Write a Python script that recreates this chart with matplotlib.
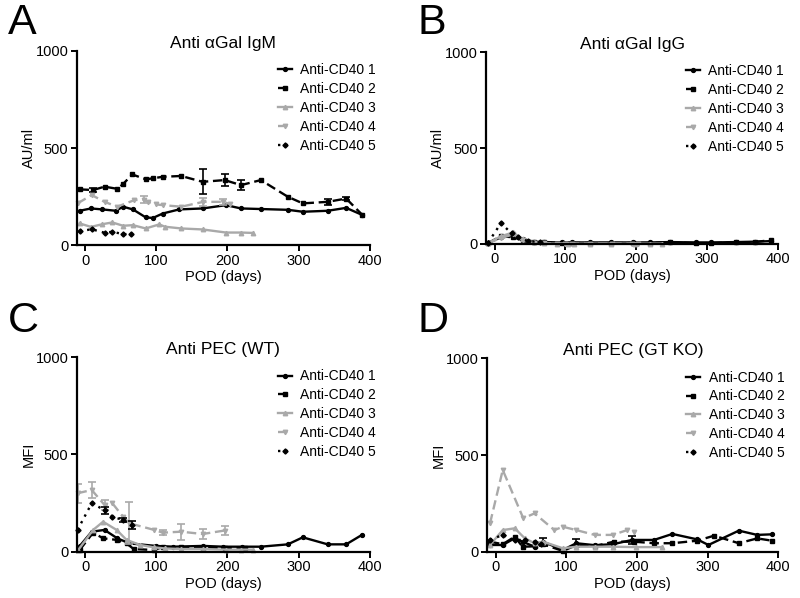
import numpy as np
import matplotlib
matplotlib.use("Agg")
import matplotlib.pyplot as plt

plt.rcParams['font.family'] = ['Liberation Sans', 'DejaVu Sans']

labels = ["Anti-CD40 1", "Anti-CD40 2", "Anti-CD40 3", "Anti-CD40 4", "Anti-CD40 5"]
titles = ["Anti \u03b1Gal IgM", "Anti \u03b1Gal IgG", "Anti PEC (WT)", "Anti PEC (GT KO)"]
ylabels = ["AU/ml", "AU/ml", "MFI", "MFI"]
letters = ["A", "B", "C", "D"]

# panel A - anti aGal IgM
igm_days = [
    [-8, 8, 24, 43, 53, 67, 85, 95, 109, 132, 165, 198, 219, 247, 285, 306, 341, 367, 390],
    [-8, 11, 27, 45, 53, 66, 85, 95, 109, 135, 165, 196, 219, 247, 285, 306, 341, 367, 390],
    [-8, 8, 24, 38, 53, 67, 85, 104, 112, 135, 165, 198, 219, 236],
    [-11, 9, 27, 45, 69, 83, 88, 99, 109, 135, 166, 194, 203],
    [-8, 9, 27, 38, 53, 64],
]
igm_vals = [
    [177, 189, 184, 177, 198, 184, 143, 140, 163, 184, 189, 206, 189, 186, 182, 172, 177, 192, 155],
    [287, 284, 301, 290, 314, 364, 339, 344, 352, 356, 326, 335, 309, 335, 249, 215, 223, 240, 155],
    [112, 94, 108, 117, 100, 103, 86, 107, 95, 86, 81, 65, 65, 63],
    [215, 258, 223, 198, 232, 235, 223, 210, 206, 198, 223, 223, 212],
    [72, 82, 64, 69, 57, 57],
]
igm_errs = [
    None,
    [0, 12, 0, 0, 0, 0, 0, 0, 0, 0, 65, 33, 24, 0, 0, 0, 17, 10, 0],
    None,
    [0, 0, 0, 0, 0, 20, 0, 0, 0, 0, 20, 15, 0],
    None,
]

# panel B - anti aGal IgG
igg_days = [
    [-9, 9, 26, 40, 56, 70, 95, 109, 135, 165, 196, 219, 247, 285, 306, 341, 367, 390],
    [-9, 9, 26, 40, 56, 70, 95, 109, 135, 165, 196, 219, 247, 285, 306, 341, 367, 390],
    [-9, 9, 26, 40, 56, 70, 88, 104, 112, 135, 165, 198, 219, 236],
    [-9, 9, 26, 40, 56, 70, 88, 99, 109, 135, 166, 194, 203],
    [-9, 9, 24, 33, 47, 64],
]
igg_vals = [
    [5, 35, 40, 25, 12, 10, 8, 8, 8, 8, 8, 8, 10, 8, 8, 10, 12, 15],
    [5, 40, 35, 20, 10, 8, 5, 5, 5, 5, 5, 5, 8, 5, 5, 8, 10, 20],
    [5, 40, 60, 25, 8, 3, 2, 2, 2, 2, 2, 2, 2, 2],
    [5, 30, 50, 20, 5, 3, 2, 2, 2, 2, 2, 2, 2],
    [7, 108, 56, 35, 15, 10],
]
igg_errs = [None, None, None, None, None]

# panel C - anti PEC (WT)
wt_days = [
    [-8, 9, 27, 45, 62, 99, 123, 166, 194, 221, 247, 285, 306, 341, 367, 389],
    [-8, 11, 25, 44, 58, 68, 96, 109, 135, 166, 196, 224],
    [-10, 11, 25, 44, 58, 77, 96, 112, 135, 165, 198, 219, 236],
    [-11, 9, 27, 38, 53, 62, 97, 109, 135, 165, 196],
    [-11, 9, 27, 38, 53, 65],
]
wt_vals = [
    [30, 104, 113, 70, 44, 31, 27, 31, 27, 27, 27, 39, 75, 39, 39, 87],
    [10, 99, 70, 62, 44, 15, 10, 25, 25, 20, 20, 20],
    [10, 113, 155, 113, 62, 36, 24, 18, 15, 15, 12, 12, 12],
    [301, 318, 241, 250, 181, 147, 113, 99, 104, 92, 110],
    [113, 250, 215, 181, 164, 138],
]
wt_errs = [
    None,
    None,
    None,
    [50, 42, 26, 0, 0, 107, 0, 12, 41, 25, 25],
    [0, 0, 18, 0, 10, 20],
]

# panel D - anti PEC (GT KO)
gtko_days = [
    [-8, 10, 27, 38, 55, 67, 95, 114, 140, 166, 193, 224, 250, 285, 301, 344, 370, 391],
    [-8, 10, 27, 38, 55, 67, 95, 114, 140, 167, 196, 224, 250, 285, 309, 344, 370, 391],
    [-8, 10, 27, 41, 55, 67, 95, 114, 140, 166, 198, 236],
    [-8, 10, 39, 55, 83, 95, 114, 140, 166, 186, 195],
    [-8, 10, 27, 41, 55, 64],
]
gtko_vals = [
    [36, 36, 71, 53, 27, 53, 10, 45, 35, 40, 62, 62, 93, 65, 36, 110, 88, 91],
    [53, 40, 79, 27, 29, 40, 5, 35, 30, 53, 53, 45, 45, 58, 84, 45, 70, 58],
    [36, 113, 122, 71, 45, 53, 19, 27, 27, 27, 25, 25],
    [148, 423, 174, 199, 113, 130, 113, 88, 88, 113, 105],
    [62, 88, 62, 62, 53, 40],
]
gtko_errs = [
    [0, 0, 0, 0, 0, 20, 0, 20, 0, 0, 20, 0, 0, 0, 0, 0, 0, 0],
    None,
    None,
    None,
    None,
]

gray = "#a9a9a9"
styles = [
    dict(color="black", ls="-", marker="o"),
    dict(color="black", ls=(0, (4, 2)), marker="s"),
    dict(color=gray, ls="-", marker="^"),
    dict(color=gray, ls=(0, (4, 2)), marker="v"),
    dict(color="black", ls=(0, (1, 2.2)), marker="D"),
]
msizes = [2.8, 3, 3.2, 3.2, 2.6]

panels = [
    (igm_days, igm_vals, igm_errs),
    (igg_days, igg_vals, igg_errs),
    (wt_days, wt_vals, wt_errs),
    (gtko_days, gtko_vals, gtko_errs),
]
positions = [
    [0.096, 0.590, 0.366, 0.325],
    [0.6075, 0.592, 0.365, 0.321],
    [0.096, 0.077, 0.366, 0.326],
    [0.609, 0.077, 0.364, 0.324],
]
letter_pos = [(0.010, 0.995), (0.522, 0.995), (0.010, 0.497), (0.522, 0.497)]

fig = plt.figure(figsize=(8, 5.98), dpi=100)

for k, (days, vals, errs) in enumerate(panels):
    ax = fig.add_axes(positions[k])
    for i in range(5):
        st = styles[i]
        ax.plot(days[i], vals[i], color=st["color"], ls=st["ls"], marker=st["marker"],
                ms=msizes[i], lw=1.7, label=labels[i], clip_on=False)
        if errs[i] is not None:
            e = np.array(errs[i])
            m = e > 0
            ax.errorbar(np.array(days[i])[m], np.array(vals[i])[m], yerr=e[m], fmt="none",
                        ecolor=st["color"], elinewidth=1.2, capsize=3, capthick=1.2)
    ax.set_xlim(-12, 400)
    ax.set_ylim(0, 1000)
    ax.set_xticks([0, 100, 200, 300, 400])
    ax.set_yticks([0, 500, 1000])
    ax.spines["top"].set_visible(False)
    ax.spines["right"].set_visible(False)
    ax.spines["left"].set_linewidth(1.6)
    ax.spines["bottom"].set_linewidth(1.6)
    ax.tick_params(width=1.4, length=4, labelsize=10.5, pad=2)
    ax.set_xlabel("POD (days)", fontsize=10.5, labelpad=2)
    ax.set_ylabel(ylabels[k], fontsize=10.5, labelpad=0)
    ax.set_title(titles[k], fontsize=12.5, pad=1)
    ax.legend(loc="upper right", bbox_to_anchor=(1.04, 0.965), frameon=False, fontsize=10,
              handlelength=1.0, handletextpad=0.6, labelspacing=0.35, borderaxespad=0)
    fig.text(letter_pos[k][0], letter_pos[k][1], letters[k], fontsize=31, va="top", ha="left")

fig.savefig("out.png", dpi=100)
